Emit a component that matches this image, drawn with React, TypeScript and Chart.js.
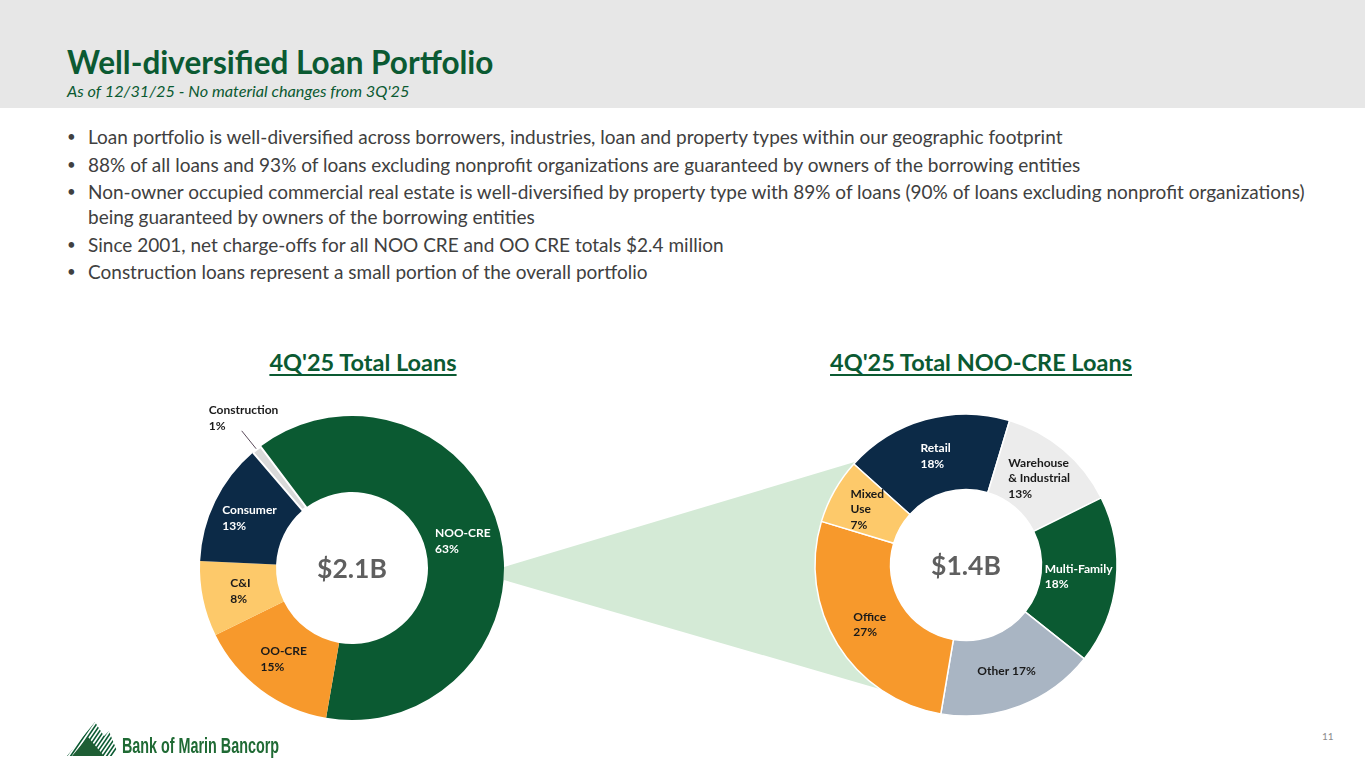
import React, { useEffect, useRef } from "react";
import { Chart, registerables } from "chart.js";

Chart.register(...registerables);

const FONT = "Lato, 'Open Sans', sans-serif";
const GREEN = "#0b5a32";

// ---- Data: 4Q'25 Total Loans ----
const totalCategories = ["NOO-CRE", "OO-CRE", "C&I", "Consumer", "Construction"];
const totalShares = [63, 15, 8, 13, 1];
const totalColors = ["#0b5a32", "#f7992c", "#fdc96a", "#0c2a47", "#d9d9d9"];
const totalLabelColors = ["#ffffff", "#1a1a1a", "#1a1a1a", "#ffffff", "#1a1a1a"];
const totalLabelLines = [["NOO-CRE"], ["OO-CRE"], ["C&I"], ["Consumer"], ["Construction"]];
const totalInlinePct = [false, false, false, false, false];
const totalBorders = [0, 0, 0, 0, 2];
const totalCenter = "$2.1B";

// ---- Data: 4Q'25 Total NOO-CRE Loans ----
const nooCategories = ["Retail", "Warehouse & Industrial", "Multi-Family", "Other", "Office", "Mixed Use"];
const nooShares = [18, 13, 18, 17, 27, 7];
const nooColors = ["#0c2a47", "#ececec", "#0b5a32", "#a9b5c3", "#f7992c", "#fdc96a"];
const nooLabelColors = ["#ffffff", "#1a1a1a", "#ffffff", "#1a1a1a", "#1a1a1a", "#1a1a1a"];
const nooLabelLines = [["Retail"], ["Warehouse", "& Industrial"], ["Multi-Family"], ["Other"], ["Office"], ["Mixed", "Use"]];
const nooInlinePct = [false, false, false, true, false, false];
const nooBorders = [1.5, 1.5, 1.5, 1.5, 1.5, 1.5];
const nooCenter = "$1.4B";

const bullets = [
  ["Loan portfolio is well-diversified across borrowers, industries, loan and property types within our geographic footprint"],
  ["88% of all loans and 93% of loans excluding nonprofit organizations are guaranteed by owners of the borrowing entities"],
  [
    "Non-owner occupied commercial real estate is well-diversified by property type with 89% of loans (90% of loans excluding nonprofit organizations)",
    "being guaranteed by owners of the borrowing entities",
  ],
  ["Since 2001, net charge-offs for all NOO CRE and OO CRE totals $2.4 million"],
  ["Construction loans represent a small portion of the overall portfolio"],
];

const donutText = {
  id: "donutText",
  afterDatasetsDraw(chart: any, _args: any, opts: any) {
    const ctx = chart.ctx as CanvasRenderingContext2D;
    const meta = chart.getDatasetMeta(0);
    const values = chart.data.datasets[0].data as number[];
    ctx.save();
    ctx.font = `bold 12px ${FONT}`;
    ctx.textBaseline = "middle";
    ctx.textAlign = "left";
    const lh = 15.5;
    meta.data.forEach((arc: any, i: number) => {
      const p = arc.getProps(["x", "y", "startAngle", "endAngle", "innerRadius", "outerRadius"], true);
      const mid = (p.startAngle + p.endAngle) / 2;
      const v = values[i];
      const lines: string[] = opts.inline[i]
        ? [`${opts.lines[i].join(" ")} ${v}%`]
        : [...opts.lines[i], `${v}%`];
      ctx.fillStyle = opts.colors[i];
      if (v < 3) {
        const r1 = p.outerRadius + 1;
        const r2 = p.outerRadius + 24;
        const x1 = p.x + Math.cos(mid) * r1;
        const y1 = p.y + Math.sin(mid) * r1;
        const x2 = p.x + Math.cos(mid) * r2;
        const y2 = p.y + Math.sin(mid) * r2;
        ctx.strokeStyle = "#5a4a5a";
        ctx.lineWidth = 1;
        ctx.beginPath();
        ctx.moveTo(x1, y1);
        ctx.lineTo(x2, y2);
        ctx.stroke();
        const lx = x2 - 33;
        const lyLast = y2 - 5;
        lines.forEach((t, k) => {
          ctx.fillText(t, lx, lyLast - (lines.length - 1 - k) * lh);
        });
        return;
      }
      const r = (p.innerRadius + p.outerRadius) / 2;
      const cx = p.x + Math.cos(mid) * r;
      const cy = p.y + Math.sin(mid) * r;
      const w = Math.max(...lines.map((t) => ctx.measureText(t).width));
      const x0 = cx - w / 2;
      const y0 = cy - ((lines.length - 1) * lh) / 2;
      lines.forEach((t, k) => ctx.fillText(t, x0, y0 + k * lh));
    });
    // centre text
    const a0 = meta.data[0];
    ctx.font = `bold 26.5px ${FONT}`;
    ctx.textAlign = "center";
    ctx.fillStyle = "#5f5f5f";
    ctx.fillText(opts.center, a0.x, a0.y + 1);
    ctx.restore();
  },
};

type DonutProps = {
  categories: string[];
  values: number[];
  colors: string[];
  labelColors: string[];
  lines: string[][];
  inline: boolean[];
  borders: number[];
  center: string;
  rotation: number;
  radius: number;
  width: number;
  height: number;
  left: number;
  top: number;
};

function Donut(props: DonutProps) {
  const ref = useRef<HTMLCanvasElement>(null);
  useEffect(() => {
    const chart = new Chart(ref.current as HTMLCanvasElement, {
      type: "doughnut",
      data: {
        labels: props.categories,
        datasets: [
          {
            data: props.values,
            backgroundColor: props.colors,
            borderColor: "#ffffff",
            borderWidth: props.borders,
            hoverOffset: 0,
          },
        ],
      },
      options: {
        responsive: false,
        animation: false,
        rotation: props.rotation,
        radius: props.radius,
        cutout: "50%",
        layout: { padding: 0 },
        events: [],
        plugins: {
          legend: { display: false },
          tooltip: { enabled: false },
          donutText: {
            lines: props.lines,
            inline: props.inline,
            colors: props.labelColors,
            center: props.center,
          },
        } as any,
      },
      plugins: [donutText],
    });
    return () => chart.destroy();
  }, []);
  return (
    <canvas
      ref={ref}
      width={props.width}
      height={props.height}
      style={{ position: "absolute", left: props.left, top: props.top, width: props.width, height: props.height }}
    />
  );
}

function Logo() {
  const stripes: JSX.Element[] = [];
  for (let k = 0; k < 14; k++) {
    const x = 58 + k * 4;
    stripes.push(<line key={k} x1={x} y1={757} x2={x + 26} y2={719} stroke={GREEN} strokeWidth={1.6} />);
  }
  return (
    <svg width={300} height={60} viewBox="50 705 300 60" style={{ position: "absolute", left: 50, top: 705 }}>
      <defs>
        <clipPath id="mtn">
          <polygon points="67,756 95,722 104,736 109,731 119,756" />
        </clipPath>
      </defs>
      <g clipPath="url(#mtn)">{stripes}</g>
      <polygon points="72,756 88,737 104,756" fill="#1e5e34" />
      <text
        x={122}
        y={753}
        fontFamily="'Liberation Sans Narrow', 'Liberation Sans', sans-serif"
        fontWeight="bold"
        fontSize={22}
        fill="#1f6a34"
        textLength={157}
        lengthAdjust="spacingAndGlyphs"
      >
        Bank of Marin Bancorp
      </text>
    </svg>
  );
}

const chartTitleStyle: React.CSSProperties = {
  position: "absolute",
  width: 500,
  top: 348,
  textAlign: "center",
  fontSize: 23.5,
  lineHeight: "28px",
  fontWeight: 700,
  color: GREEN,
  textDecoration: "underline",
  textUnderlineOffset: 3,
  whiteSpace: "nowrap",
};

export default function App() {
  return (
    <div
      style={{
        position: "absolute",
        left: 0,
        top: 0,
        width: 1365,
        height: 768,
        overflow: "hidden",
        background: "#ffffff",
        fontFamily: FONT,
      }}
    >
      <div style={{ position: "absolute", left: 0, top: 0, width: 1365, height: 108, background: "#e7e7e7" }} />
      <div
        style={{
          position: "absolute",
          left: 67,
          top: 47,
          fontSize: 31.5,
          lineHeight: "31.5px",
          fontWeight: 700,
          color: GREEN,
          whiteSpace: "nowrap",
        }}
      >
        Well-diversified Loan Portfolio
      </div>
      <div
        style={{
          position: "absolute",
          left: 67,
          top: 82.5,
          fontSize: 16.3,
          lineHeight: "16.3px",
          fontStyle: "italic",
          color: GREEN,
          whiteSpace: "nowrap",
        }}
      >
        As of 12/31/25 - No material changes from 3Q'25
      </div>

      <div style={{ position: "absolute", left: 67, top: 124, width: 1280, color: "#404040", fontSize: 19 }}>
        {bullets.map((b, i) => (
          <div key={i} style={{ position: "relative", paddingLeft: 21, lineHeight: "25px", marginBottom: 2.5 }}>
            <span style={{ position: "absolute", left: 0, top: 0, fontSize: 15 }}>•</span>
            {b.map((t, k) => (
              <div key={k} style={{ whiteSpace: "nowrap" }}>
                {t}
              </div>
            ))}
          </div>
        ))}
      </div>

      <div style={{ ...chartTitleStyle, left: 363 - 250 }}>4Q'25 Total Loans</div>
      <div style={{ ...chartTitleStyle, left: 981 - 250 }}>4Q'25 Total NOO-CRE Loans</div>

      <svg width={1365} height={768} style={{ position: "absolute", left: 0, top: 0 }}>
        <polygon points="504,567 868,458 890,692 504,580" fill="#d4ead6" />
      </svg>

      <Donut
        categories={totalCategories}
        values={totalShares}
        colors={totalColors}
        labelColors={totalLabelColors}
        lines={totalLabelLines}
        inline={totalInlinePct}
        borders={totalBorders}
        center={totalCenter}
        rotation={323}
        radius={152}
        width={360}
        height={360}
        left={172}
        top={388}
      />
      <Donut
        categories={nooCategories}
        values={nooShares}
        colors={nooColors}
        labelColors={nooLabelColors}
        lines={nooLabelLines}
        inline={nooInlinePct}
        borders={nooBorders}
        center={nooCenter}
        rotation={312}
        radius={151}
        width={360}
        height={360}
        left={786}
        top={385}
      />

      <Logo />
      <div style={{ position: "absolute", left: 1322, top: 730, fontSize: 10, color: "#8c8c8c" }}>11</div>
    </div>
  );
}
